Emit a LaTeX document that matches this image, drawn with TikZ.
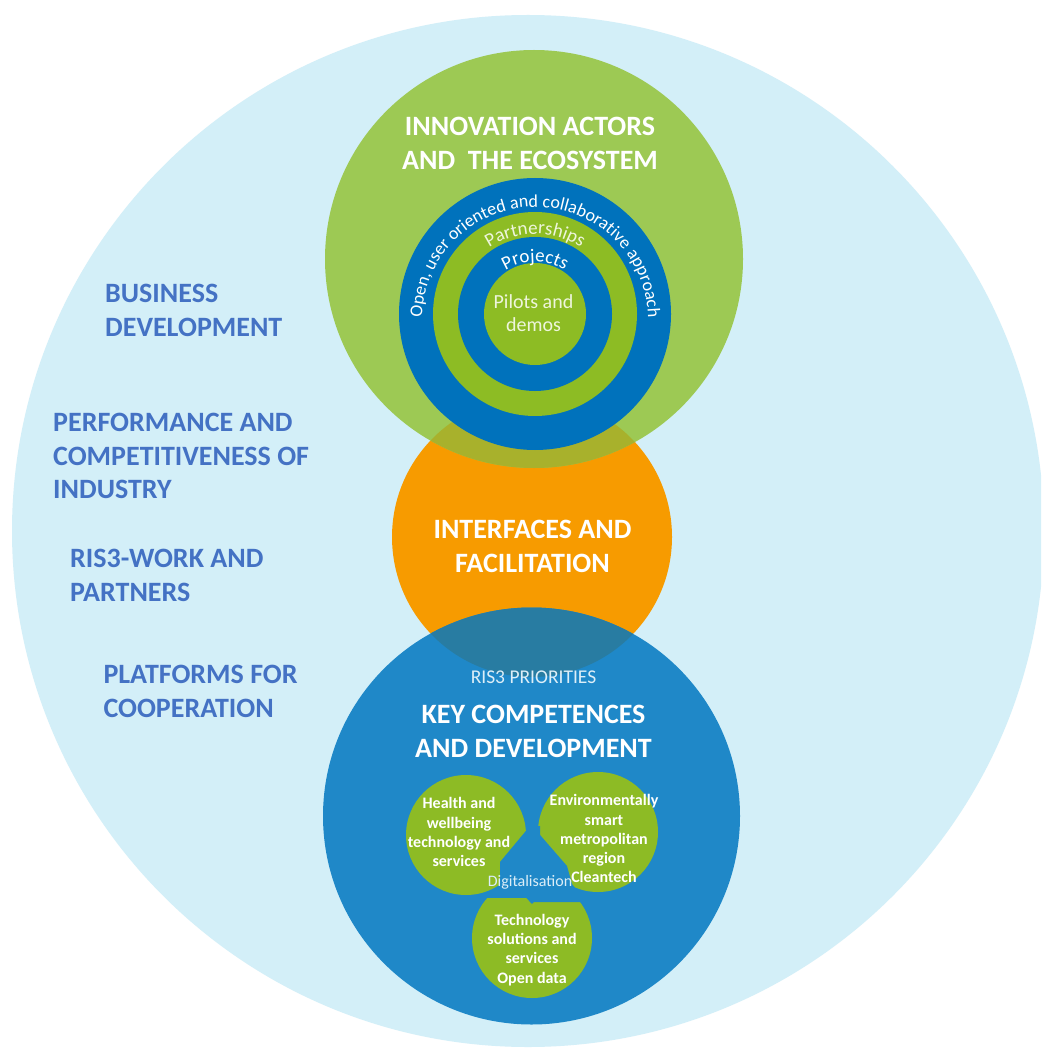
\documentclass[tikz,border=0pt]{standalone}
\usepackage{fontspec}
\setmainfont{Carlito}
\usetikzlibrary{decorations.text}

\definecolor{skyfill}{HTML}{D3EFF8}
\definecolor{actorgreen}{HTML}{9DC954}
\definecolor{olivemix}{HTML}{A8B12C}
\definecolor{ringblue}{HTML}{0072BC}
\definecolor{ringgreen}{HTML}{8DBC24}
\definecolor{facilorange}{HTML}{F79B00}
\definecolor{keyblue}{HTML}{1F88C8}
\definecolor{tealmix}{HTML}{287CA2}
\definecolor{leafgreen}{HTML}{8DBB25}
\definecolor{labelblue}{HTML}{4472C4}
\definecolor{palecream}{HTML}{EEF5DC}
\definecolor{palesky}{HTML}{DCEEF8}

\newcommand\fsz[2]{\fontsize{#1}{#2}\selectfont}

\begin{document}
\begin{tikzpicture}[x=1pt,y=1pt,
  heading/.style={text=white, font=\fsz{28}{33.5}\bfseries, align=center, inner sep=0, anchor=north},
  sidelabel/.style={text=labelblue, font=\fsz{28}{33.5}\bfseries, align=left, inner sep=0, anchor=north west},
  leaftext/.style={text=white, font=\fsz{16}{19.2}\bfseries, align=center, inner sep=0, anchor=north},
  softtext/.style={inner sep=0, anchor=north, align=center}]

\useasboundingbox (0,0) rectangle (1041,-1048);
\clip (0,0) rectangle (1041,-1048);
\fill[white] (0,0) rectangle (1041,-1048);

% large pale background disc
\fill[skyfill] (528,-531) circle[radius=516];

% interfaces disc
\fill[facilorange] (532,-537) circle[radius=140];

% innovation actors disc, with its blend over the orange disc
\fill[actorgreen] (534,-259) circle[radius=209];
\begin{scope}
  \clip (532,-537) circle[radius=140];
  \fill[olivemix] (534,-259) circle[radius=209];
\end{scope}

% concentric rings
\fill[ringblue]  (535,-314) circle[radius=136];
\fill[ringgreen] (535,-314) circle[radius=102];
\fill[ringblue]  (535,-314) circle[radius=77];
\fill[ringgreen] (535,-314) circle[radius=51];

% key competences disc, with its blend over the orange disc
\fill[keyblue] (531.5,-816) circle[radius=208.5];
\begin{scope}
  \clip (532,-537) circle[radius=140];
  \fill[tealmix] (531.5,-816) circle[radius=208.5];
\end{scope}

% three priority discs
\fill[leafgreen] (466,-835) circle[radius=60];
\fill[leafgreen] (598,-832) circle[radius=60];
\begin{scope}
  \clip (400,-898) rectangle (680,-1010);
  \fill[leafgreen] (532,-938) circle[radius=60];
\end{scope}
% notches cut towards the shared centre
\fill[keyblue] (530,-826) -- (500,-862) -- (500,-892) -- (540,-892) -- (540,-826) -- cycle;
\fill[keyblue] (534,-828) -- (567,-866) -- (572,-884) -- (586,-902) -- (530,-902) -- cycle;
\fill[keyblue] (526,-897.5) -- (538,-897.5) -- (532,-904) -- cycle;

% headings
\node[heading] (actors) at (530,-117) {INNOVATION ACTORS\\AND\ \ THE ECOSYSTEM};
\node[heading] (interfaces) at (532.5,-520) {INTERFACES AND\\FACILITATION};
\node[softtext, text=palesky, font=\fsz{19.5}{22}] (priorities) at (533.5,-671) {RIS3 PRIORITIES};
\node[heading] (keycomp) at (533.5,-705) {KEY COMPETENCES\\AND DEVELOPMENT};

% ring texts
\node[softtext, text=palecream, font=\fsz{20}{23.5}] (pilots) at (533.5,-294) {Pilots and\\demos};
\path[decorate, decoration={text along path, text align=center,
  text={|\fsz{18}{20}\color{white}|Open, user oriented and collaborative approach}}]
  (535,-320) ++(185:113) arc[start angle=185, end angle=-5, radius=113];
\path[decorate, decoration={text along path, text align=center,
  text={|\fsz{19}{21}\color{palecream}|Partnerships}}]
  (535,-318) ++(150:84) arc[start angle=150, end angle=30, radius=84];
\path[decorate, decoration={text along path, text align=center,
  text={|\fsz{19}{21}\color{white}|Projects}}]
  (535,-318) ++(150:56) arc[start angle=150, end angle=30, radius=56];

% priority texts
\node[leaftext] (health) at (459,-797.5) {Health and\\wellbeing\\technology and\\services};
\node[leaftext] (enviro) at (604,-794.5) {Environmentally\\smart\\metropolitan\\region\\Cleantech};
\node[leaftext] (techsol) at (532,-914) {Technology\\solutions and\\services\\Open data};
\node[softtext, text=palesky, font=\fsz{16}{19}] (digital) at (530,-875) {Digitalisation};

% side labels
\node[sidelabel] (business) at (105,-284) {BUSINESS\\DEVELOPMENT};
\node[sidelabel] (performance) at (53,-413.3) {PERFORMANCE AND\\COMPETITIVENESS OF\\INDUSTRY};
\node[sidelabel] (riswork) at (70,-549) {RIS3-WORK AND\\PARTNERS};
\node[sidelabel] (platforms) at (103.3,-665) {PLATFORMS FOR\\COOPERATION};

\end{tikzpicture}
\end{document}
